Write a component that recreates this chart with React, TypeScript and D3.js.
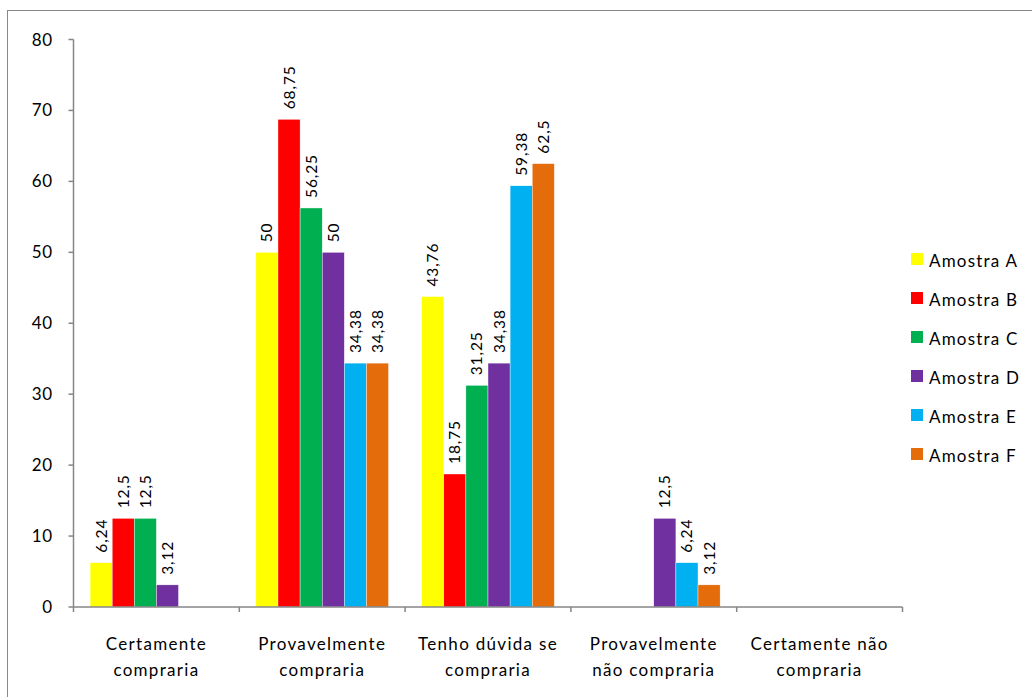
import React from "react";
import * as d3 from "d3";

const categories = [
  ["Certamente", "compraria"],
  ["Provavelmente", "compraria"],
  ["Tenho dúvida se", "compraria"],
  ["Provavelmente", "não compraria"],
  ["Certamente não", "compraria"],
];
const seriesNames = ["Amostra A", "Amostra B", "Amostra C", "Amostra D", "Amostra E", "Amostra F"];
const colors = ["#FFFF00", "#FF0000", "#00B050", "#7030A0", "#00B0F0", "#E46C0A"];
const amostraA = [6.24, 50, 43.76, null, null];
const amostraB = [12.5, 68.75, 18.75, null, null];
const amostraC = [12.5, 56.25, 31.25, null, null];
const amostraD = [3.12, 50, 34.38, 12.5, null];
const amostraE = [null, 34.38, 59.38, 6.24, null];
const amostraF = [null, 34.38, 62.5, 3.12, null];
const yTicks = [0, 10, 20, 30, 40, 50, 60, 70, 80];

const series = [amostraA, amostraB, amostraC, amostraD, amostraE, amostraF];

const FONT = "Lato, 'Open Sans', sans-serif";
const AXIS = "#868686";

export default function App() {
  const W = 1032, H = 697;
  const left = 73.5, right = 902.5, top = 39.5, bottom = 607;
  const x0 = d3.scaleBand<number>().domain(d3.range(categories.length)).range([left, right]).paddingInner(0).paddingOuter(0);
  const x1 = d3.scaleBand<number>().domain(d3.range(seriesNames.length)).range([0, x0.bandwidth()]).paddingOuter(0.75).paddingInner(0);
  const y = d3.scaleLinear().domain([0, 80]).range([bottom, top]);
  const fmt = (v: number) => String(v).replace(".", ",");

  return (
    <svg width={W} height={H} style={{ position: "absolute", left: 0, top: 0, background: "#fff" }} fontFamily={FONT}>
      <rect x={7.5} y={10.5} width={W} height={H} fill="#fff" stroke="#888" strokeWidth={1} />
      {/* bars */}
      {series.map((s, si) =>
        s.map((v, ci) =>
          v == null ? null : (
            <g key={`${si}-${ci}`}>
              <rect
                x={x0(ci)! + x1(si)!}
                y={y(v)}
                width={x1.bandwidth()}
                height={y(0) - y(v)}
                fill={colors[si]}
                stroke="#fff"
                strokeWidth={0.4}
              />
              <text
                transform={`translate(${x0(ci)! + x1(si)! + x1.bandwidth() / 2 + 5.5},${y(v) - 10}) rotate(-90)`}
                fontSize={15.5}
                letterSpacing={0.9}
                fill="#000"
                textAnchor="start"
              >
                {fmt(v)}
              </text>
            </g>
          )
        )
      )}
      {/* y axis */}
      <line x1={left} x2={left} y1={top} y2={bottom} stroke={AXIS} strokeWidth={1.5} />
      {yTicks.map((t) => (
        <g key={t}>
          <line x1={left - 5} x2={left} y1={y(t)} y2={y(t)} stroke={AXIS} strokeWidth={1.5} />
          <text x={53} y={y(t) + 6} textAnchor="end" fontSize={17} letterSpacing={0.8} fill="#000">
            {t}
          </text>
        </g>
      ))}
      {/* x axis */}
      <line x1={left} x2={right} y1={bottom} y2={bottom} stroke={AXIS} strokeWidth={1.5} />
      {d3.range(categories.length + 1).map((i) => {
        const xx = left + i * x0.bandwidth();
        return <line key={i} x1={xx} x2={xx} y1={bottom} y2={bottom + 5} stroke={AXIS} strokeWidth={1.5} />;
      })}
      {categories.map((lines, ci) => (
        <text key={ci} x={x0(ci)! + x0.bandwidth() / 2} textAnchor="middle" fontSize={17} letterSpacing={1.3} fill="#000">
          {lines.map((l, li) => (
            <tspan key={li} x={x0(ci)! + x0.bandwidth() / 2} y={650 + li * 26}>
              {l}
            </tspan>
          ))}
        </text>
      ))}
      {/* legend */}
      {seriesNames.map((n, i) => (
        <g key={n} transform={`translate(911,${253 + i * 39})`}>
          <rect x={0} y={0} width={12} height={12} fill={colors[i]} />
          <text x={18} y={13.5} fontSize={17} letterSpacing={1.2} fill="#000">
            {n}
          </text>
        </g>
      ))}
    </svg>
  );
}
